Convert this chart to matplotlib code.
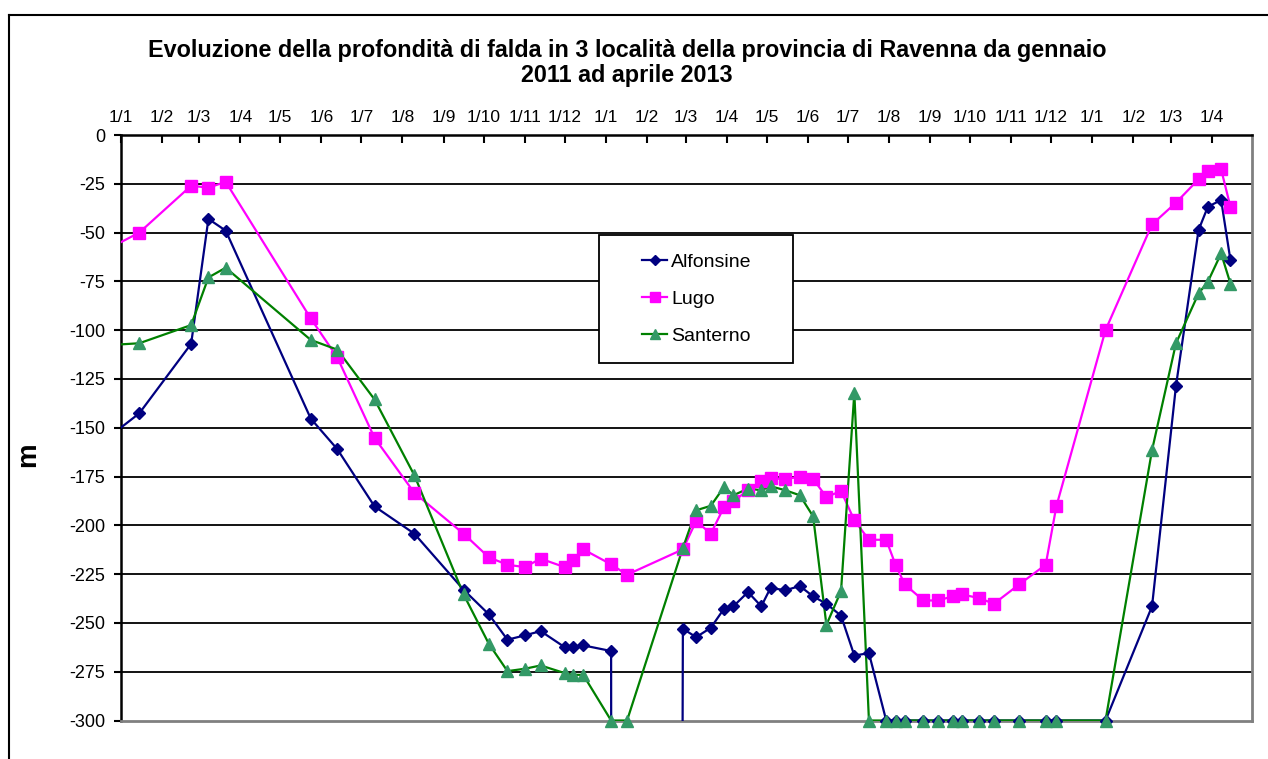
import numpy as np
import pandas as pd
import matplotlib
matplotlib.use('Agg')
import matplotlib.pyplot as plt
import matplotlib.dates as mdates
from matplotlib.lines import Line2D
from matplotlib.patches import Rectangle

plt.rcParams['font.family'] = ['Liberation Sans', 'DejaVu Sans']
plt.rcParams['axes.unicode_minus'] = False

# campionamenti (il primo, dic 2010, cade fuori dal grafico)
dates_2011 = ['2010-12-15', '2011-01-15', '2011-02-23', '2011-03-08', '2011-03-21', '2011-05-24',
              '2011-06-13', '2011-07-11', '2011-08-10', '2011-09-16', '2011-10-05', '2011-10-19',
              '2011-11-01', '2011-11-13', '2011-12-01', '2011-12-07', '2011-12-15']
dates_2012 = ['2012-01-05', '2012-01-17', '2012-02-28', '2012-03-09', '2012-03-20', '2012-03-30',
              '2012-04-06', '2012-04-17', '2012-04-27', '2012-05-04', '2012-05-15', '2012-05-26',
              '2012-06-05', '2012-06-15', '2012-06-26', '2012-07-06', '2012-07-17', '2012-07-30',
              '2012-08-06', '2012-08-13', '2012-08-27', '2012-09-07', '2012-09-18', '2012-09-25',
              '2012-10-08', '2012-10-19', '2012-11-07', '2012-11-27', '2012-12-05']
dates_2013 = ['2013-01-11', '2013-02-15', '2013-03-05', '2013-03-22', '2013-03-29', '2013-04-08',
              '2013-04-15']

# -9999 = fuori scala (pozzo secco)
alfonsine_2011 = [-159, -142.6, -107, -43, -49, -145.3, -161, -190.3, -204.3, -233, -245.6, -258.6,
                  -256.4, -254.2, -262.4, -262.4, -261.5]
alfonsine_2012 = [-264.4, -9999, -253, -257.3, -252.5, -242.7, -241.5, -234.2, -241.5, -232, -233.3,
                  -231.1, -236.4, -240.2, -246.3, -266.7, -265.5, -300, -300, -300, -300, -300,
                  -300, -300, -300, -300, -300, -300, -300]
alfonsine_2013 = [-300, -241.5, -128.7, -48.7, -36.8, -33.3, -64.1]

lugo_2011 = [-61, -50, -26, -27, -24, -94, -114, -155.2, -183.4, -204.3, -216.4, -220.2,
             -221.4, -217.1, -221.4, -218, -212.3]
lugo_2012 = [-220, -225.3, -212.3, -197.8, -204.3, -190.6, -187.7, -182, -177.3, -176, -176.2,
             -175.2, -176.2, -185.5, -182.4, -197.4, -207.4, -207.4, -220.2, -230.3, -238.5, -238.5,
             -236.4, -235.4, -237.3, -240.2, -230.3, -220.2, -190.3]
lugo_2013 = [-100, -45.8, -34.7, -22.7, -18.5, -17.6, -36.8]

santerno_2011 = [-108, -106.7, -97.4, -73, -68, -105, -110, -135.5, -174.4, -235.4, -260.7, -274.7,
                 -273.5, -271.8, -275.7, -276.6, -276.6]
santerno_2012 = [-300, -300, -211.6, -192.3, -190, -180.3, -184.6, -181.2, -182, -180, -182,
                 -184.6, -195.4, -251, -233.7, -132.1, -300, -300, -300, -300, -300, -300,
                 -300, -300, -300, -300, -300, -300, -300]
santerno_2013 = [-300, -161.5, -106.8, -81.2, -75.2, -60.7, -76.1]

dates = pd.to_datetime(dates_2011 + dates_2012 + dates_2013)
series = {
    'Alfonsine': np.array(alfonsine_2011 + alfonsine_2012 + alfonsine_2013),
    'Lugo': np.array(lugo_2011 + lugo_2012 + lugo_2013),
    'Santerno': np.array(santerno_2011 + santerno_2012 + santerno_2013),
}
styles = {
    'Alfonsine': dict(color='#000080', marker='D', mfc='#000080', mec='#000080', ms=6),
    'Lugo': dict(color='#FF00FF', marker='s', mfc='#FF00FF', mec='#FF00FF', ms=8),
    'Santerno': dict(color='#008000', marker='^', mfc='#339966', mec='#339966', ms=8.5),
}

start = pd.Timestamp('2011-01-01')
end = pd.Timestamp('2013-05-01')

W, H = 1268, 759
fig = plt.figure(figsize=(W / 100, H / 100), dpi=100)
ax = fig.add_axes([120.7 / W, 1 - 720.5 / H, (1251.7 - 120.7) / W, (720.5 - 135) / H])

for yv in np.arange(-275, 0, 25):
    ax.axhline(yv, color='black', lw=1.3, zorder=1)

handles = []
for name, vals in series.items():
    st = styles[name]
    ax.plot(dates, vals, color=st['color'], lw=1.6, zorder=3)
    keep = (dates >= start) & (vals >= -300)
    ax.plot(dates[keep], vals[keep], ls='none', marker=st['marker'], ms=st['ms'],
            mfc=st['mfc'], mec=st['mec'], clip_on=False, zorder=4)
    handles.append(Line2D([], [], color=st['color'], lw=1.6, marker=st['marker'], ms=st['ms'] * 0.85,
                          mfc=st['mfc'], mec=st['mec']))

ax.set_xlim(start, end)
ax.set_ylim(-300, 0)
ax.set_yticks(np.arange(-300, 1, 25))

ax.xaxis.tick_top()
ax.set_xticks(pd.date_range(start, '2013-04-01', freq='MS'))
ax.xaxis.set_major_formatter(mdates.DateFormatter('1/%-m'))
ax.tick_params(axis='x', direction='in', length=6, width=1.5, pad=7, labelsize=12.5)
ax.tick_params(axis='y', direction='out', length=5, width=1.5, pad=6, labelsize=13)

ax.spines['top'].set_linewidth(1.8)
ax.spines['left'].set_linewidth(1.8)
ax.spines['right'].set_color('#808080')
ax.spines['right'].set_linewidth(2)
ax.spines['bottom'].set_color('#808080')
ax.spines['bottom'].set_linewidth(2)

fig.text(28 / W, 1 - 455 / H, 'm', rotation=90, ha='center', va='center',
         fontsize=20, fontweight='bold')

fig.text(627 / W, 1 - 63 / H,
         'Evoluzione della profondità di falda in 3 località della provincia di Ravenna da gennaio\n'
         '2011 ad aprile 2013',
         ha='center', va='center', fontsize=16.8, fontweight='bold', linespacing=1.1)

# riquadro legenda
fig.patches.append(Rectangle((599 / W, 1 - 363 / H), 194 / W, 128 / H, transform=fig.transFigure,
                             facecolor='white', edgecolor='black', lw=1.3, zorder=5))
leg = fig.legend(handles, list(series.keys()), loc='center', bbox_to_anchor=(697 / W, 1 - 299 / H),
                 frameon=False, fontsize=14, handlelength=1.3, handletextpad=0.2, labelspacing=1.0)
leg.set_zorder(6)

# bordo esterno
fig.add_artist(Line2D([9 / W, 9 / W], [0, 1 - 15 / H], color='black', lw=1.5, transform=fig.transFigure))
fig.add_artist(Line2D([9 / W, 1], [1 - 15 / H, 1 - 15 / H], color='black', lw=1.5, transform=fig.transFigure))

fig.savefig('out.png', dpi=100)
